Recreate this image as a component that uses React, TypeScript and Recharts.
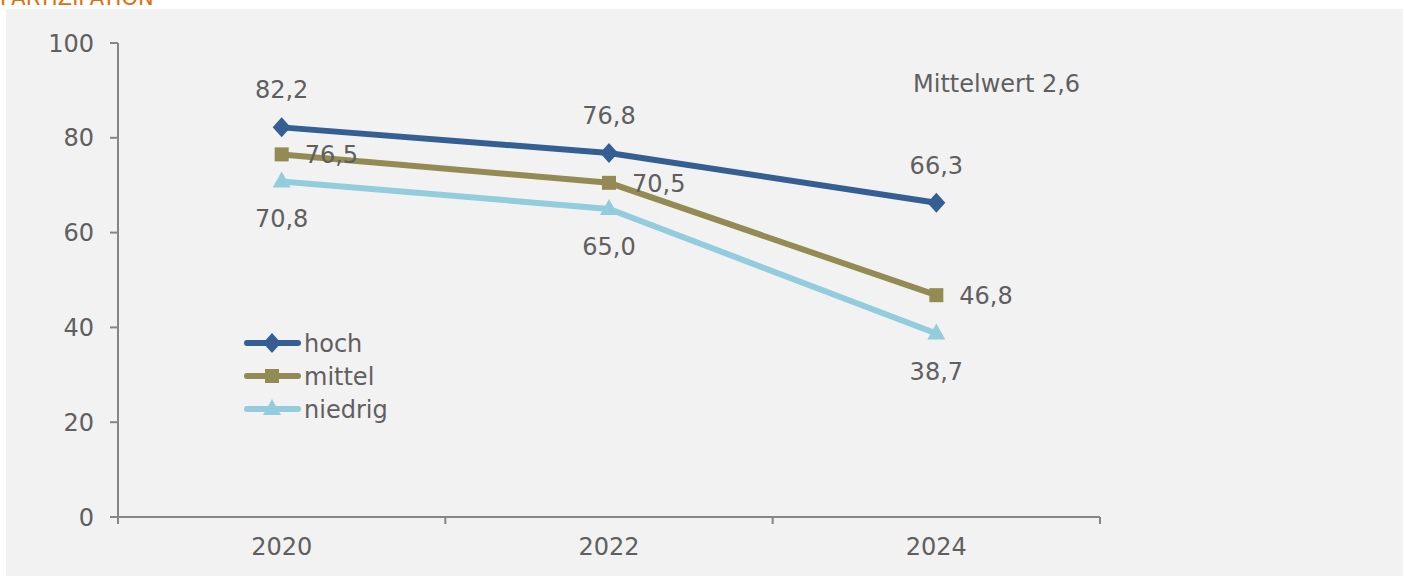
import React from "react";
import { LineChart, Line, XAxis, YAxis, LabelList } from "recharts";

const years = [2020, 2022, 2024];
const hoch = [82.2, 76.8, 66.3];
const mittel = [76.5, 70.5, 46.8];
const niedrig = [70.8, 65.0, 38.7];
const yTicks = [0, 20, 40, 60, 80, 100];
const xTicks = [2019, 2020, 2021, 2022, 2023, 2024, 2025];

const data = years.map((year, i) => ({
  year,
  hoch: hoch[i],
  mittel: mittel[i],
  niedrig: niedrig[i],
}));

const FONT = "'DejaVu Sans', sans-serif";
const TEXT = "#5F5F5F";
const AXIS = "#868686";
const C_HOCH = "#355E92";
const C_MITTEL = "#948A54";
const C_NIEDRIG = "#93CDDD";

const fmt = (v: number) => v.toFixed(1).replace(".", ",");

const Diamond = ({ cx, cy, fill }: any) => (
  <path d={`M${cx},${cy - 10} L${cx + 9},${cy} L${cx},${cy + 10} L${cx - 9},${cy} Z`} fill={fill} />
);
const Square = ({ cx, cy, fill }: any) => (
  <rect x={cx - 7} y={cy - 7} width={14} height={14} fill={fill} />
);
const Triangle = ({ cx, cy, fill }: any) => (
  <path d={`M${cx},${cy - 10} L${cx + 9},${cy + 6} L${cx - 9},${cy + 6} Z`} fill={fill} />
);

// odd years mark the category boundaries (tick marks only), even years carry the labels
const XTick = ({ x, y, payload }: any) => {
  const v = payload.value;
  if (v % 2 === 1) {
    return <line x1={x} x2={x} y1={y} y2={y + 7} stroke={AXIS} strokeWidth={2} />;
  }
  return (
    <text x={x} y={y + 38} textAnchor="middle" fill={TEXT} fontSize={24} fontFamily={FONT}>
      {v}
    </text>
  );
};

const makeLabel = (pos: "above" | "right" | "below") => (props: any) => {
  const { x, y, value } = props;
  let tx = x;
  let ty = y;
  let anchor: "middle" | "start" = "middle";
  if (pos === "above") ty = y - 29;
  if (pos === "below") ty = y + 46;
  if (pos === "right") {
    tx = x + 23;
    ty = y + 9;
    anchor = "start";
  }
  return (
    <text x={tx} y={ty} textAnchor={anchor} fill={TEXT} fontSize={24} fontFamily={FONT}>
      {fmt(value)}
    </text>
  );
};

const legendItems = [
  { name: "hoch", color: C_HOCH, Marker: Diamond },
  { name: "mittel", color: C_MITTEL, Marker: Square },
  { name: "niedrig", color: C_NIEDRIG, Marker: Triangle },
];

export default function App() {
  return (
    <div style={{ position: "absolute", left: 0, top: 0, width: 1404, height: 576, background: "#fff", overflow: "hidden" }}>
      <div style={{ position: "absolute", left: 6, top: 9, width: 1397, height: 567, background: "#F2F2F2" }} />
      <div style={{ position: "absolute", left: 0, top: 0 }}>
        <LineChart width={1404} height={576} data={data} margin={{ top: 43, right: 304, bottom: 0, left: 0 }}>
          <XAxis
            dataKey="year"
            type="number"
            domain={[2019, 2025]}
            ticks={xTicks}
            interval={0}
            height={59}
            tickSize={0}
            tickMargin={0}
            tickLine={false}
            tick={<XTick />}
            axisLine={{ stroke: AXIS, strokeWidth: 2 }}
          />
          <YAxis
            domain={[0, 100]}
            ticks={yTicks}
            interval={0}
            width={118}
            tickSize={8}
            tickMargin={16}
            tick={{ fill: TEXT, fontSize: 24, fontFamily: FONT }}
            tickLine={{ stroke: AXIS, strokeWidth: 2 }}
            axisLine={{ stroke: AXIS, strokeWidth: 2 }}
          />
          <Line
            dataKey="hoch"
            stroke={C_HOCH}
            strokeWidth={6}
            dot={<Diamond fill={C_HOCH} />}
            isAnimationActive={false}
          >
            <LabelList dataKey="hoch" content={makeLabel("above")} />
          </Line>
          <Line
            dataKey="mittel"
            stroke={C_MITTEL}
            strokeWidth={6}
            dot={<Square fill={C_MITTEL} />}
            isAnimationActive={false}
          >
            <LabelList dataKey="mittel" content={makeLabel("right")} />
          </Line>
          <Line
            dataKey="niedrig"
            stroke={C_NIEDRIG}
            strokeWidth={6}
            dot={<Triangle fill={C_NIEDRIG} />}
            isAnimationActive={false}
          >
            <LabelList dataKey="niedrig" content={makeLabel("below")} />
          </Line>
        </LineChart>
      </div>
      <svg style={{ position: "absolute", left: 0, top: 0 }} width={1404} height={576}>
        <text x={0} y={5} fill="#E46C0A" fontSize={21} fontFamily={FONT}>
          PARTIZIPATION
        </text>
        <text x={913} y={92} fill={TEXT} fontSize={24} fontFamily={FONT}>
          Mittelwert 2,6
        </text>
        {legendItems.map((item, i) => {
          const cy = 343 + i * 33;
          return (
            <g key={item.name}>
              <line x1={247} x2={298} y1={cy} y2={cy} stroke={item.color} strokeWidth={6} strokeLinecap="round" />
              <item.Marker cx={272} cy={cy} fill={item.color} />
              <text x={304} y={cy + 9} fill={TEXT} fontSize={24} fontFamily={FONT}>
                {item.name}
              </text>
            </g>
          );
        })}
      </svg>
    </div>
  );
}
